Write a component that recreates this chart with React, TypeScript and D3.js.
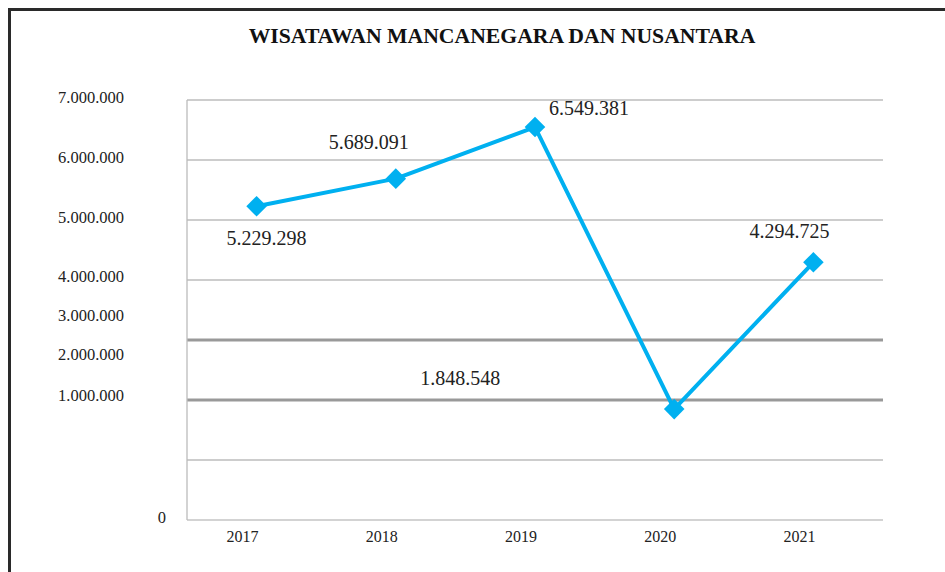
import React from "react";
import * as d3 from "d3";

const years = ["2017", "2018", "2019", "2020", "2021"];
const visitors = [5229298, 5689091, 6549381, 1848548, 4294725];
const valueLabels = ["5.229.298", "5.689.091", "6.549.381", "1.848.548", "4.294.725"];
const gridValues = [0, 1000000, 2000000, 3000000, 4000000, 5000000, 6000000, 7000000];
const thickGrid = [2000000, 3000000];
const tickLabels = ["0", "1.000.000", "2.000.000", "3.000.000", "4.000.000", "5.000.000", "6.000.000", "7.000.000"];
// where each (misplaced) tick label sits, in data units
const tickAnchors = [50000, 2080000, 2770000, 3420000, 4070000, 5050000, 6050000, 7050000];
const title = "WISATAWAN MANCANEGARA DAN  NUSANTARA";

const W = 945, H = 572;
const plot = { left: 187, right: 883, top: 100, bottom: 520 };
// label offsets relative to each point (px)
const labelOffsets = [
  [10, 32], [-27, -37], [54, -19], [-214, -31], [-24, -31],
];

export default function App() {
  const x = d3.scaleBand<string>().domain(years).range([plot.left, plot.right]);
  const y = d3.scaleLinear().domain([0, 7000000]).range([plot.bottom, plot.top]);
  const cx = (i: number) => (x(years[i]) as number) + x.bandwidth() / 2;
  const line = d3.line<number>().x((_, i) => cx(i)).y((d) => y(d));
  const diamond = d3.symbol().type(d3.symbolDiamond2).size(270)();
  const serif = "Liberation Serif, Times New Roman, serif";

  return (
    <svg width={W} height={H} style={{ position: "absolute", left: 0, top: 0, background: "#fff", fontFamily: serif }}>
      <rect x={0} y={0} width={W} height={H} fill="#fff" />
      <rect x={9.5} y={9.5} width={W + 20} height={H + 20} fill="none" stroke="#2a2a2a" strokeWidth={3} />
      <text x={502} y={43} textAnchor="middle" fontWeight="bold" fontSize={21.7} fill="#111" style={{ fontFamily: serif }}>{title}</text>
      {gridValues.map((v) => {
        const thick = thickGrid.includes(v);
        return (
          <line key={v} x1={plot.left} x2={plot.right} y1={y(v)} y2={y(v)}
            stroke={thick ? "#999" : v === 0 ? "#c4c4c4" : "#bcbcbc"} strokeWidth={thick ? 3 : 1.3} />
        );
      })}
      <line x1={plot.left} x2={plot.left} y1={plot.top} y2={plot.bottom} stroke="#bcbcbc" strokeWidth={1.3} />
      {tickLabels.map((t, i) => (
        <text key={t} x={i === 0 ? 166 : 124} y={y(tickAnchors[i])} dy="0.35em" textAnchor="end" fontSize={16.5} fill="#222" style={{ fontFamily: serif }}>{t}</text>
      ))}
      {years.map((yr, i) => (
        <text key={yr} x={cx(i) - 14} y={542} textAnchor="middle" fontSize={16} fill="#222" style={{ fontFamily: serif }}>{yr}</text>
      ))}
      <path d={line(visitors) as string} fill="none" stroke="#00B0F0" strokeWidth={4} strokeLinejoin="round" />
      {visitors.map((v, i) => (
        <path key={i} d={diamond as string} transform={`translate(${cx(i)},${y(v)})`} fill="#00B0F0" />
      ))}
      {visitors.map((v, i) => (
        <text key={"l" + i} x={cx(i) + labelOffsets[i][0]} y={y(v) + labelOffsets[i][1]} dy="0.35em" textAnchor="middle" fontSize={20} fill="#222" style={{ fontFamily: serif }}>{valueLabels[i]}</text>
      ))}
    </svg>
  );
}
